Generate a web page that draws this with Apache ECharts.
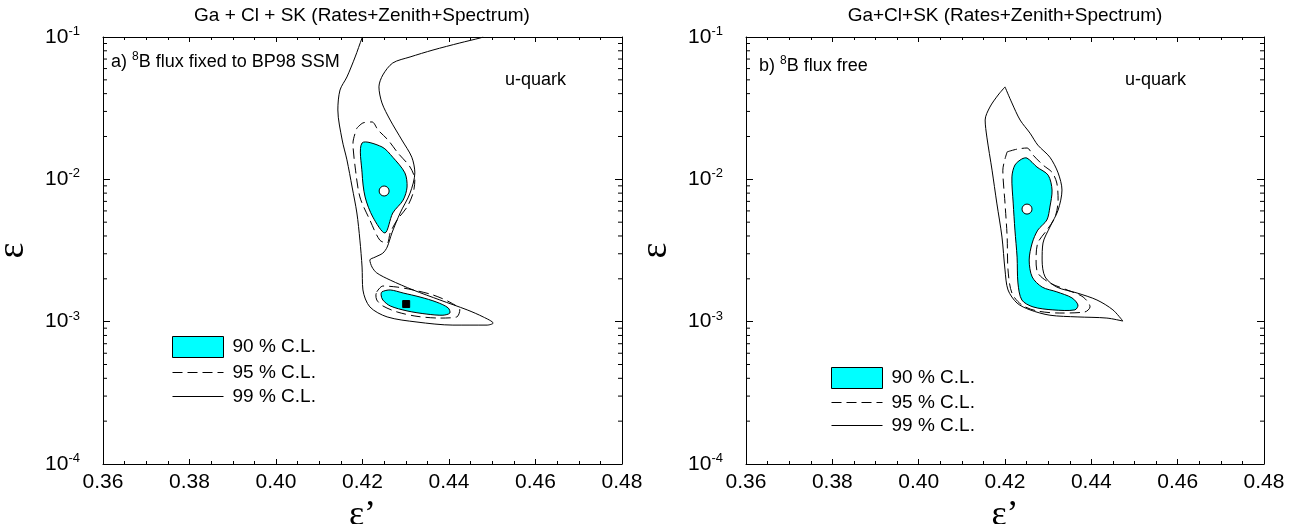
<!DOCTYPE html>
<html><head><meta charset="utf-8">
<script src="https://cdn.jsdelivr.net/npm/echarts@6.0.0/dist/echarts.min.js"></script>
<style>html,body{margin:0;padding:0;background:#fff}#c{width:1303px;height:524px}</style>
</head><body><div id="c"></div>
<script>
// ---- tick values ----
const xTickMin = 0.36, xTickMax = 0.48, xTickStep = 0.02;
const yTickMin = 1e-4, yTickMax = 1e-1;
const logDecades = [1e-4, 1e-3, 1e-2];
const logMinorMult = [2, 3, 4, 5, 6, 7, 8, 9];

// ---- panel a) : 8B flux fixed to BP98 SSM ----
const a99 = [[0.4201,0.1],[0.4199,0.0984],[0.4183,0.0724],[0.4164,0.0524],[0.4148,0.0424],[0.4143,0.0307],
  [0.4153,0.0189],[0.4164,0.0137],[0.4176,0.00883],[0.4187,0.00580],[0.4194,0.00374],[0.4199,0.00242],
  [0.4201,0.00167],[0.4217,0.00127],[0.4257,0.00108],[0.4326,0.000994],[0.4409,0.000946],[0.4488,0.000946],
  [0.4502,0.000977],[0.4479,0.00108],[0.4442,0.00121],[0.4379,0.00142],[0.4317,0.00167],[0.4264,0.00196],
  [0.4233,0.00220],[0.4222,0.00242],[0.4217,0.00271],[0.4229,0.00284],[0.4247,0.00303],[0.4257,0.00334],
  [0.4268,0.00420],[0.4287,0.00580],[0.4310,0.00801],[0.4321,0.0111],[0.4314,0.0143],[0.4291,0.0189],
  [0.4264,0.0261],[0.4245,0.0344],[0.4238,0.0446],[0.4247,0.0541],[0.4270,0.0657],[0.4310,0.0724],
  [0.4363,0.0810],[0.4425,0.0908],[0.4472,0.0984],[0.4479,0.1]];
const a90up = [[0.4199,0.0180],[0.4245,0.0169],[0.4270,0.0143],[0.4298,0.0111],[0.4303,0.00883],[0.4294,0.00715],
  [0.4270,0.00580],[0.4252,0.00420],[0.4224,0.00543],[0.4206,0.00752],[0.4199,0.0111]];
const a90low = [[0.4245,0.00162],[0.4264,0.00167],[0.4294,0.00159],[0.4333,0.00149],[0.4372,0.00137],[0.4398,0.00125],
  [0.4402,0.00115],[0.4386,0.00111],[0.4349,0.00113],[0.4303,0.00119],[0.4264,0.00129],[0.4247,0.00142],[0.4243,0.00154]];
const a95up = [[0.4187,0.0229],[0.4201,0.0249],[0.4222,0.0253],[0.4236,0.0222],[0.4259,0.0189],[0.4282,0.0153],
  [0.4310,0.0122],[0.4321,0.00989],[0.4317,0.00801],[0.4303,0.00639],[0.4280,0.00518],[0.4264,0.00420],
  [0.4257,0.00357],[0.4240,0.00374],[0.4217,0.00518],[0.4194,0.00752],[0.4183,0.0122],[0.4178,0.0180],[0.4187,0.0229]];
const a95low = [[0.4233,0.00162],[0.4247,0.00178],[0.4280,0.00175],[0.4317,0.00167],[0.4363,0.00154],[0.4402,0.00137],
  [0.4425,0.00121],[0.4418,0.00108],[0.4379,0.00106],[0.4326,0.00109],[0.4280,0.00117],[0.4247,0.00129],
  [0.4233,0.00142],[0.4231,0.00154],[0.4233,0.00162]];
const aBestCircle = [[0.4250,0.00828]];
const aBestSquare = [[0.4301,0.00133]];

// ---- panel b) : 8B flux free ----
const b99 = [[0.4200,0.0446],[0.4216,0.0344],[0.4235,0.0261],[0.4258,0.0211],[0.4276,0.0174],[0.4304,0.0143],
  [0.4323,0.0111],[0.4332,0.00841],[0.4323,0.00608],[0.4304,0.00462],[0.4288,0.00357],[0.4286,0.00271],
  [0.4293,0.00206],[0.4320,0.00175],[0.4367,0.00159],[0.4413,0.00142],[0.4450,0.00121],[0.4473,0.00101],
  [0.4436,0.00106],[0.4367,0.00108],[0.4304,0.00111],[0.4258,0.00121],[0.4228,0.00135],[0.4207,0.00167],
  [0.4200,0.00231],[0.4193,0.00393],[0.4181,0.00681],[0.4170,0.0116],[0.4158,0.0198],[0.4154,0.0261],
  [0.4165,0.0322],[0.4184,0.0391],[0.4200,0.0446]];
const b90 = [[0.4251,0.0141],[0.4274,0.0122],[0.4300,0.0107],[0.4309,0.00841],[0.4304,0.00639],[0.4297,0.00518],
  [0.4276,0.00440],[0.4263,0.00357],[0.4256,0.00271],[0.4263,0.00206],[0.4286,0.00175],[0.4320,0.00162],
  [0.4355,0.00147],[0.4369,0.00131],[0.4362,0.00121],[0.4311,0.00121],[0.4265,0.00127],[0.4239,0.00142],
  [0.4230,0.00187],[0.4228,0.00284],[0.4223,0.00440],[0.4219,0.00681],[0.4216,0.0104],[0.4223,0.0126],[0.4239,0.0139]];
const b95 = [[0.4205,0.0156],[0.4228,0.0163],[0.4251,0.0166],[0.4265,0.0148],[0.4288,0.0126],[0.4309,0.0112],
  [0.4320,0.00942],[0.4323,0.00715],[0.4316,0.00543],[0.4297,0.00440],[0.4276,0.00357],[0.4272,0.00271],
  [0.4276,0.00220],[0.4304,0.00187],[0.4344,0.00167],[0.4381,0.00149],[0.4397,0.00127],[0.4385,0.00117],
  [0.4327,0.00115],[0.4274,0.00119],[0.4239,0.00131],[0.4216,0.00159],[0.4207,0.00231],[0.4205,0.00393],
  [0.4200,0.00681],[0.4195,0.0116],[0.4205,0.0156]];
const bBestCircle = [[0.4251,0.00618]];

// ---- texts ----
const titleA = 'Ga + Cl + SK (Rates+Zenith+Spectrum)';
const titleB = 'Ga+Cl+SK (Rates+Zenith+Spectrum)';
const noteA = ['a) ', '8', 'B flux fixed to BP98 SSM'];
const noteB = ['b) ', '8', 'B flux free'];
const modelLabel = 'u-quark';
const clNames = ['90 % C.L.', '95 % C.L.', '99 % C.L.'];
const xName = 'ε’', yName = 'ε';

// ---- build ----
const SANS = 'Liberation Sans';
const SERIF = 'Liberation Serif';
const minorVals = [];
logDecades.forEach(d => logMinorMult.forEach(m => minorVals.push(d * m)));

const grids = [
  {left: 103, top: 37, width: 519, height: 427, outerBoundsMode: 'none', containLabel: false},
  {left: 746, top: 37, width: 518, height: 427, outerBoundsMode: 'none', containLabel: false}
];

function xAx(g, pos) {
  const main = pos === 'bottom';
  return {
    gridIndex: g, type: 'value', position: pos, min: xTickMin, max: xTickMax, interval: xTickStep,
    axisLine: {show: true, onZero: false, lineStyle: {color: '#000', width: 1}},
    axisTick: {show: true, inside: true, length: 5, lineStyle: {color: '#000', width: 1}},
    minorTick: {show: true, splitNumber: 4, length: 3, lineStyle: {color: '#000', width: 1}},
    splitLine: {show: false}, minorSplitLine: {show: false},
    axisLabel: {show: main, showMinLabel: true, showMaxLabel: true, margin: 8, color: '#000',
      fontFamily: SANS, fontSize: 21, formatter: v => v.toFixed(2)},
    name: main ? xName : '', nameLocation: 'middle', nameGap: 30,
    nameTextStyle: {fontFamily: SERIF, fontSize: 36, color: '#000'}
  };
}
function yAx(g, pos) {
  const main = pos === 'left';
  return {
    gridIndex: g, type: 'log', logBase: 10, position: pos, min: yTickMin, max: yTickMax, splitNumber: 3,
    axisLine: {show: true, onZero: false, lineStyle: {color: '#000', width: 1}},
    axisTick: {show: true, inside: true, length: 7, lineStyle: {color: '#000', width: 1}},
    splitLine: {show: false},
    axisLabel: {show: main, showMinLabel: true, showMaxLabel: true, margin: 23, color: '#000',
      formatter: v => '{b|10}{s|' + Math.round(Math.log10(v)) + '}',
      rich: {
        b: {fontFamily: SANS, fontSize: 21, lineHeight: 24, color: '#000'},
        s: {fontFamily: SANS, fontSize: 13, lineHeight: 12, verticalAlign: 'top', color: '#000'}
      }},
    name: main ? yName : '', nameLocation: 'middle', nameGap: 71, nameRotate: 90,
    nameTextStyle: {fontFamily: SERIF, fontSize: 38, color: '#000'}
  };
}

function polySeries(name, pts, xi, yi) {
  return {
    type: 'custom', name: name, xAxisIndex: xi, yAxisIndex: yi, z: 2, clip: true, silent: true,
    itemStyle: {color: '#00ffff'},
    data: [pts[0]],
    renderItem: (p, api) => ({
      type: 'polygon',
      shape: {points: pts.map(q => api.coord(q)), smooth: 0.3},
      style: {fill: '#00ffff', stroke: '#000', lineWidth: 1}
    })
  };
}
function lineSeries(name, pts, xi, yi, dashed) {
  return {
    type: 'line', name: name, xAxisIndex: xi, yAxisIndex: yi, data: pts, symbol: 'none', showSymbol: false,
    smooth: 0.3, z: 3, clip: true, silent: true,
    lineStyle: {color: '#000', width: 1, type: dashed ? [10, 5] : 'solid'},
    itemStyle: {color: '#000'}
  };
}
function markSeries(pts, xi, yi, sym, size, fill) {
  return {
    type: 'scatter', xAxisIndex: xi, yAxisIndex: yi, data: pts, symbol: sym, symbolSize: size, z: 6, silent: true,
    itemStyle: {color: fill, borderColor: '#000', borderWidth: 1, opacity: 1}
  };
}
function minorTickSeries(xi, yi) {
  return {
    type: 'custom', xAxisIndex: xi, yAxisIndex: yi, z: 7, clip: false, silent: true,
    data: minorVals.map(v => [xTickMin, v]),
    renderItem: (p, api) => {
      const y = api.value(1);
      const a = api.coord([xTickMin, y]);
      const b = api.coord([xTickMax, y]);
      return {type: 'group', children: [
        {type: 'line', shape: {x1: a[0], y1: a[1], x2: a[0] + 4, y2: a[1]}, style: {stroke: '#000', lineWidth: 1}},
        {type: 'line', shape: {x1: b[0], y1: b[1], x2: b[0] - 4, y2: b[1]}, style: {stroke: '#000', lineWidth: 1}}
      ]};
    }
  };
}

const hiddenSymbol = {color: 'rgba(0,0,0,0)', borderColor: 'rgba(0,0,0,0)', borderWidth: 0, opacity: 0};
function legendAt(left, top, gap, h) {
  return {
    orient: 'vertical', left: left, top: top, padding: 0, itemWidth: 51, itemHeight: h, itemGap: gap,
    selectedMode: false,
    lineStyle: {width: 1},
    textStyle: {fontFamily: SANS, fontSize: 19, color: '#000', padding: [0, 0, 0, 4]},
    data: [
      {name: clNames[0], icon: 'rect', itemStyle: {color: '#00ffff', borderColor: '#000', borderWidth: 1}},
      {name: clNames[1], itemStyle: hiddenSymbol},
      {name: clNames[2], itemStyle: hiddenSymbol}
    ]
  };
}

function note(x, y, parts) {
  return {
    type: 'text', x: x, y: y, silent: true,
    style: {
      text: '{n|' + parts[0] + '}{s|' + parts[1] + '}{n|' + parts[2] + '}',
      align: 'left', verticalAlign: 'middle',
      rich: {
        n: {fontFamily: SANS, fontSize: 18, lineHeight: 22, fill: '#000'},
        s: {fontFamily: SANS, fontSize: 12, lineHeight: 12, verticalAlign: 'top', fill: '#000'}
      }
    }
  };
}
function plainText(x, y, txt, size, align) {
  return {type: 'text', x: x, y: y, silent: true,
    style: {text: txt, fontFamily: SANS, fontSize: size, fill: '#000', align: align, verticalAlign: 'middle'}};
}

const option = {
  animation: false,
  backgroundColor: '#fff',
  grid: grids,
  xAxis: [xAx(0, 'bottom'), xAx(0, 'top'), xAx(1, 'bottom'), xAx(1, 'top')],
  yAxis: [yAx(0, 'left'), yAx(0, 'right'), yAx(1, 'left'), yAx(1, 'right')],
  legend: [legendAt(172, 336, 5, 21), legendAt(831, 367, 4, 21)],
  graphic: [
    plainText(362, 16, titleA, 19, 'center'),
    plainText(1005, 16, titleB, 19, 'center'),
    note(111, 62, noteA),
    note(759, 66, noteB),
    plainText(505, 80, modelLabel, 18, 'left'),
    plainText(1125, 80, modelLabel, 18, 'left')
  ],
  series: [
    polySeries(clNames[0], a90up, 0, 0),
    polySeries(clNames[0], a90low, 0, 0),
    lineSeries(clNames[1], a95up, 0, 0, true),
    lineSeries(clNames[1], a95low, 0, 0, true),
    lineSeries(clNames[2], a99, 0, 0, false),
    markSeries(aBestCircle, 0, 0, 'circle', 10, '#fff'),
    markSeries(aBestSquare, 0, 0, 'rect', 7, '#000'),
    minorTickSeries(0, 0),
    polySeries(clNames[0], b90, 2, 2),
    lineSeries(clNames[1], b95, 2, 2, true),
    lineSeries(clNames[2], b99, 2, 2, false),
    markSeries(bBestCircle, 2, 2, 'circle', 10, '#fff'),
    minorTickSeries(2, 2)
  ]
};
const chart = echarts.init(document.getElementById('c'), null, {renderer: 'canvas'});
chart.setOption(option);
</script>
</body></html>
